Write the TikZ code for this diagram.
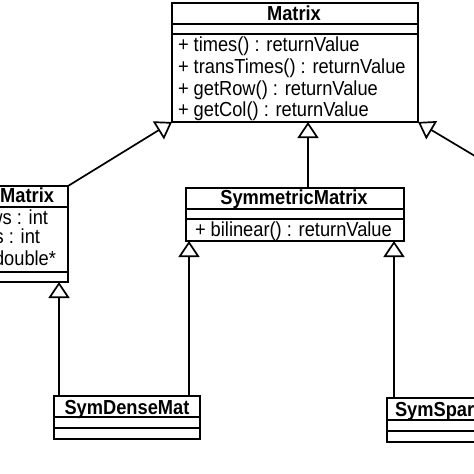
\documentclass[tikz,border=0pt]{standalone}
\usepackage{fontspec}
\setmainfont{Liberation Sans}[FakeStretch=0.9]
\usetikzlibrary{arrows.meta}
\begin{document}
\begin{tikzpicture}[x=1pt,y=-1pt,
  cls/.style={draw, line width=1.9pt, anchor=north west, inner sep=0pt, outer sep=0pt},
  sep/.style={line width=1.7pt},
  txt/.style={inner sep=0pt, outer sep=0pt, font=\fontsize{20.3}{21.7}\selectfont},
  ttl/.style={txt, font=\fontsize{20.3}{21.7}\selectfont\bfseries},
  gen/.style={line width=1.7pt, -{Triangle[open, length=16pt, width=21pt, line width=1.7pt]}}]
\useasboundingbox (0,0) rectangle (474,474);
\fill[white] (0,0) rectangle (474,474);
\clip (0,0) rectangle (474,474);

% class boxes
\node[cls, minimum width=246pt, minimum height=119pt] (matrix) at (172,3) {};
\node[cls, minimum width=128pt, minimum height=96pt] (dense) at (-60,186) {};
\node[cls, minimum width=218pt, minimum height=53pt] (sym) at (186,188) {};
\node[cls, minimum width=146pt, minimum height=43pt] (symdense) at (54,396) {};
\node[cls, minimum width=143pt, minimum height=44pt] (symsparse) at (387,398) {};

% compartment separators
\draw[sep] (172,24) -- (418,24);
\draw[sep] (172,34) -- (418,34);
\draw[sep] (-60,207) -- (68,207);
\draw[sep] (-60,272) -- (68,272);
\draw[sep] (186,209) -- (404,209);
\draw[sep] (186,219) -- (404,219);
\draw[sep] (54,417) -- (200,417);
\draw[sep] (54,428) -- (200,428);
\draw[sep] (387,420) -- (530,420);
\draw[sep] (387,431) -- (530,431);

% texts
\node[ttl, anchor=base] (tmatrix) at (294,20.7) {Matrix};
\node[txt, anchor=base west] (m1) at (178,51.5) {+ times() : returnValue};
\node[txt, anchor=base west] (m2) at (178,73.5) {+ transTimes() : returnValue};
\node[txt, anchor=base west] (m3) at (178,95) {+ getRow() : returnValue};
\node[txt, anchor=base west] (m4) at (178,116.5) {+ getCol() : returnValue};

\node[ttl, anchor=base east] (tdense) at (54,202.5) {Matrix};
\node[txt, anchor=base east] (d1) at (48,224) {ws : int};
\node[txt, anchor=base east] (d2) at (40,243.5) {s : int};
\node[txt, anchor=base east] (d3) at (56,265.5) {double*};

\node[ttl, anchor=base] (tsym) at (294,204.5) {SymmetricMatrix};
\node[txt, anchor=base west] (s1) at (195,236) {+ bilinear() : returnValue};

\node[ttl, anchor=base] (tsymdense) at (127,414) {SymDenseMat};
\node[ttl, anchor=base west] (tsymsparse) at (395,416) {SymSpar};

% generalizations
\coordinate (rightfree) at (500,171);
\draw[gen] (dense.north east) -- (matrix.south west);
\draw[gen] ([xshift=13pt]sym.north) -- ([xshift=13pt]sym.north |- matrix.south);
\draw[gen] (rightfree) -- (matrix.south east);
\draw[gen] ([xshift=5pt]symdense.north west) -- ([xshift=5pt]symdense.north west |- dense.south);
\draw[gen] ([xshift=3pt]sym.south west |- symdense.north) -- ([xshift=3pt]sym.south west);
\draw[gen] ([xshift=7pt]symsparse.north west) -- ([xshift=7pt]symsparse.north west |- sym.south);
\end{tikzpicture}
\end{document}
